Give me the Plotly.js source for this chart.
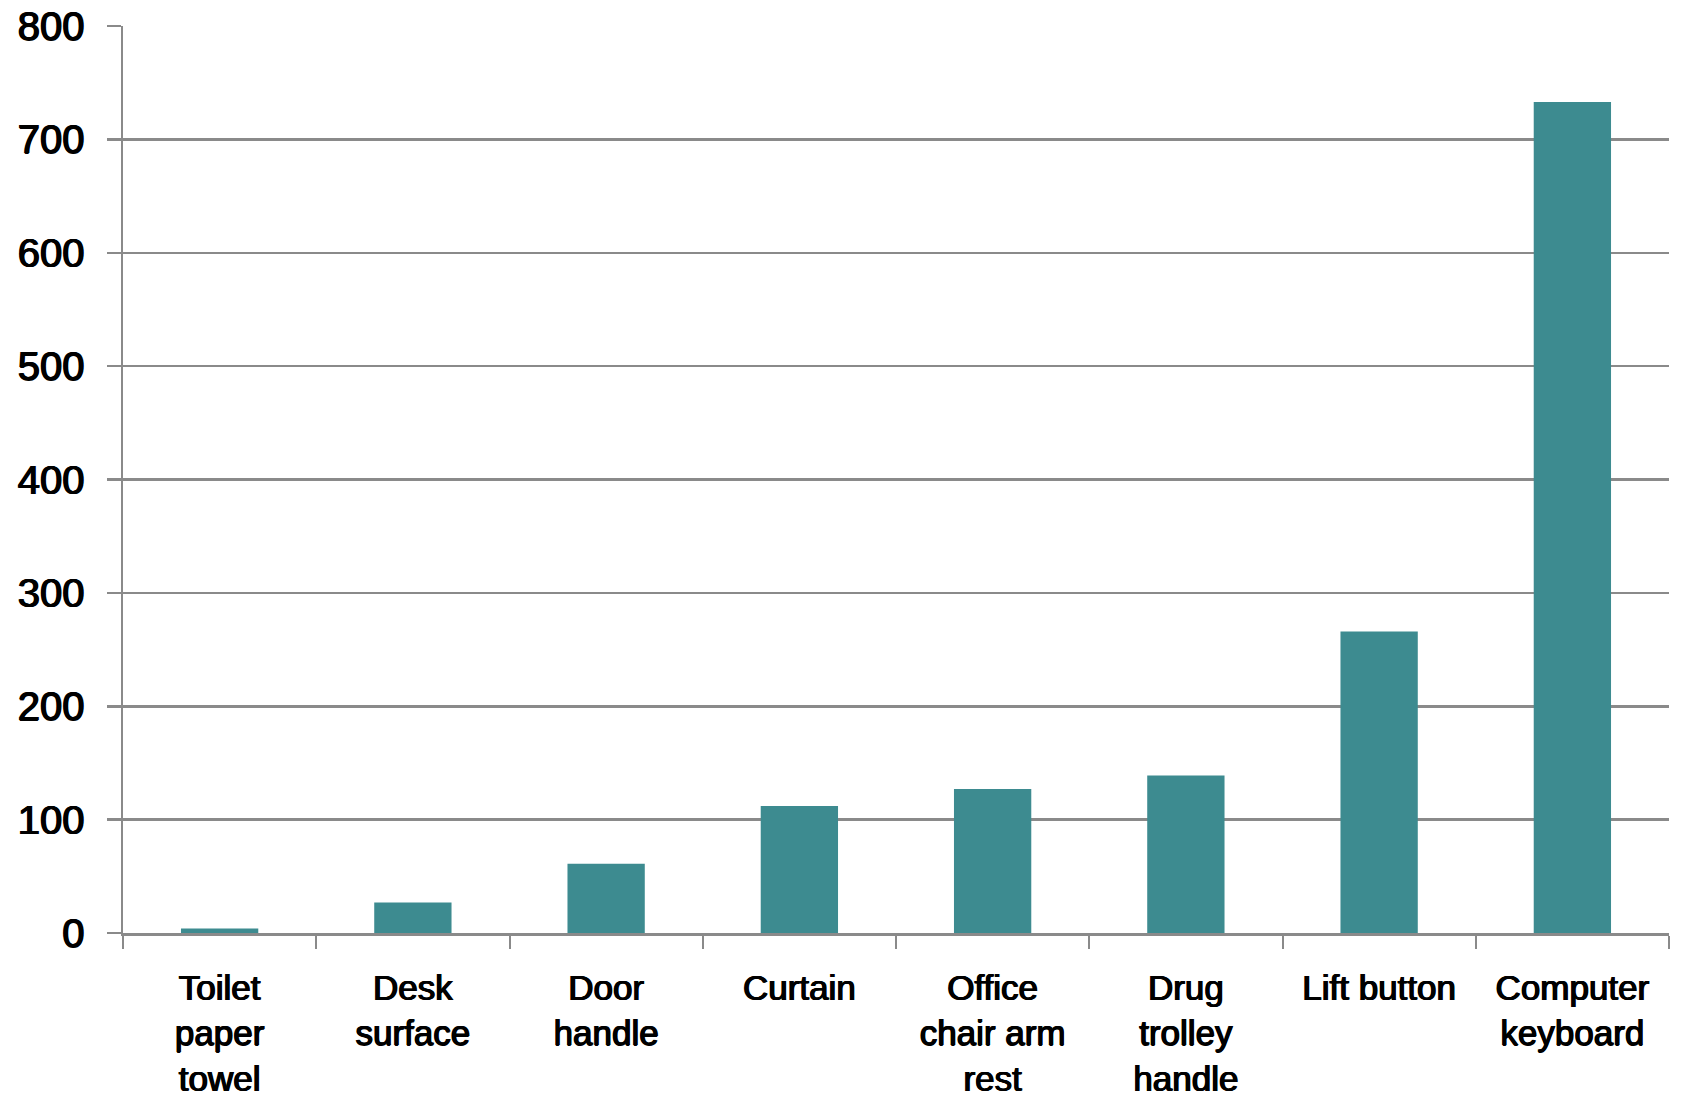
<!DOCTYPE html>
<html>
<head>
<meta charset="utf-8">
<script src="https://cdn.plot.ly/plotly-3.0.1.min.js"></script>
<style>html,body{margin:0;padding:0;background:#fff;}#chart{width:1683px;height:1103px;}</style>
</head>
<body>
<div id="chart"></div>
<script>
var categories = ["Toilet<br>paper<br>towel", "Desk<br>surface", "Door<br>handle", "Curtain", "Office<br>chair arm<br>rest", "Drug<br>trolley<br>handle", "Lift button", "Computer<br>keyboard"];
var values = [4, 27, 61, 112, 127, 139, 266, 733];
var yTicks = [0, 100, 200, 300, 400, 500, 600, 700, 800];

var gridColor = "#8a8a8a";
var fontFam = "Liberation Sans, Arial, sans-serif";
var heavy = "0.7px 0 0 #000, -0.7px 0 0 #000, 0 0.5px 0 #000";

var trace = {
  type: "bar",
  x: categories,
  y: values,
  marker: {color: "#3d8b90", line: {width: 0}},
  hoverinfo: "x+y"
};

var layout = {
  width: 1683,
  height: 1103,
  margin: {l: 123, r: 14, t: 26, b: 170},
  paper_bgcolor: "#ffffff",
  plot_bgcolor: "#ffffff",
  showlegend: false,
  bargap: 0.6,
  font: {family: fontFam, color: "#000000"},
  xaxis: {
    type: "category",
    showline: true,
    linecolor: gridColor,
    linewidth: 2.5,
    showgrid: false,
    ticks: "outside",
    tickson: "boundaries",
    ticklen: 13,
    tickwidth: 2,
    tickcolor: gridColor,
    tickfont: {family: fontFam, size: 35, color: "#000000", shadow: heavy},
    ticklabelstandoff: 22,
    tickangle: 0,
    fixedrange: true
  },
  yaxis: {
    range: [0, 800],
    tickvals: yTicks,
    ticktext: yTicks.map(String),
    showline: true,
    linecolor: gridColor,
    linewidth: 2.5,
    showgrid: true,
    gridcolor: gridColor,
    gridwidth: 2.5,
    zeroline: false,
    ticks: "outside",
    ticklen: 14,
    tickwidth: 2.5,
    tickcolor: gridColor,
    tickfont: {family: fontFam, size: 40, color: "#000000", shadow: heavy},
    ticklabelstandoff: 14,
    fixedrange: true
  }
};

Plotly.newPlot("chart", [trace], layout, {displayModeBar: false, staticPlot: true});
</script>
</body>
</html>
